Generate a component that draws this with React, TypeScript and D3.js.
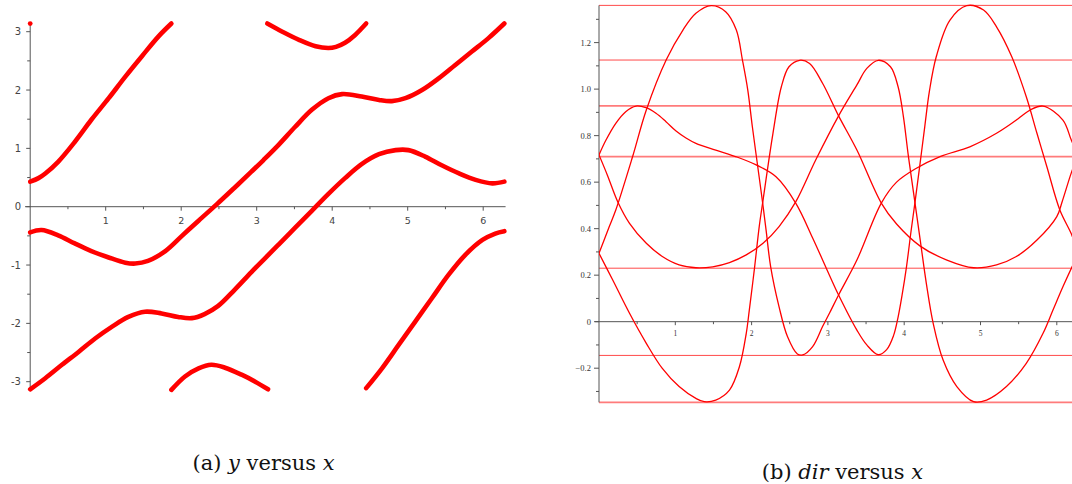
import React from "react";
import * as d3 from "d3";

type Pt = [number, number];

// (a) y versus x : branches, x in [0, 2pi], y in [-pi, pi]
const yBranchA: Pt[] = [[0, 0.43], [0.11, 0.49], [0.2, 0.57], [0.37, 0.77], [0.59, 1.11], [0.81, 1.49], [1.04, 1.86], [1.26, 2.23], [1.48, 2.58], [1.7, 2.92], [1.87, 3.14]];
const yBranchB: Pt[] = [[0, -0.44], [0.15, -0.4], [0.37, -0.49], [0.59, -0.63], [0.81, -0.76], [1.04, -0.87], [1.26, -0.96], [1.39, -0.975], [1.56, -0.93], [1.79, -0.76], [2.01, -0.5], [2.23, -0.24], [2.47, 0.04], [2.71, 0.33], [2.93, 0.6], [3.09, 0.8], [3.29, 1.06], [3.51, 1.37], [3.73, 1.66], [3.95, 1.86], [4.13, 1.93], [4.39, 1.89], [4.62, 1.83], [4.79, 1.81], [4.97, 1.86], [5.19, 2.0], [5.41, 2.2], [5.63, 2.43], [5.85, 2.66], [6.07, 2.89], [6.28, 3.14]];
const yBranchC: Pt[] = [[0, -3.13], [0.2, -2.94], [0.42, -2.71], [0.64, -2.49], [0.86, -2.26], [1.08, -2.06], [1.3, -1.89], [1.52, -1.8], [1.74, -1.83], [1.96, -1.89], [2.14, -1.91], [2.31, -1.84], [2.49, -1.7], [2.71, -1.42], [2.93, -1.12], [3.09, -0.91], [3.29, -0.65], [3.51, -0.36], [3.73, -0.07], [3.95, 0.22], [4.17, 0.49], [4.39, 0.73], [4.62, 0.9], [4.84, 0.97], [5.01, 0.97], [5.23, 0.86], [5.45, 0.71], [5.68, 0.57], [5.9, 0.46], [6.12, 0.4], [6.28, 0.43]];
const yBranchD: Pt[] = [[4.45, -3.11], [4.66, -2.77], [4.88, -2.37], [5.1, -1.97], [5.32, -1.57], [5.54, -1.17], [5.76, -0.83], [5.99, -0.57], [6.16, -0.46], [6.28, -0.42]];
const yArcTop: Pt[] = [[3.14, 3.14], [3.34, 3.0], [3.56, 2.86], [3.78, 2.75], [3.95, 2.72], [4.05, 2.74], [4.17, 2.81], [4.3, 2.94], [4.45, 3.14]];
const yArcBottom: Pt[] = [[1.87, -3.14], [2.05, -2.91], [2.23, -2.77], [2.4, -2.71], [2.58, -2.76], [2.8, -2.88], [2.98, -3.0], [3.15, -3.13]];
const yLoneDot: Pt = [0, 3.14];

// (b) dir versus x
const dir1: Pt[] = [[0, 0.717], [0.09, 0.78], [0.22, 0.853], [0.35, 0.903], [0.485, 0.927], [0.616, 0.92], [0.747, 0.896], [0.878, 0.86], [1.01, 0.82], [1.14, 0.79], [1.27, 0.767], [1.53, 0.738], [1.8, 0.709], [2.06, 0.674], [2.32, 0.623], [2.58, 0.509], [2.8, 0.36], [3.02, 0.2], [3.14, 0.115], [3.38, -0.036], [3.51, -0.1], [3.66, -0.142], [3.77, -0.12], [3.86, -0.06], [3.92, 0.02], [3.97, 0.11], [4.03, 0.236], [4.09, 0.39], [4.14, 0.51], [4.2, 0.66], [4.27, 0.84], [4.33, 0.99], [4.42, 1.139], [4.6, 1.297], [4.82, 1.359], [5.04, 1.34], [5.21, 1.268], [5.41, 1.139], [5.6, 0.967], [5.74, 0.81], [5.87, 0.666], [6.04, 0.48], [6.2, 0.37], [6.28, 0.29]];
const dir2: Pt[] = [[0, 0.717], [0.11, 0.63], [0.245, 0.516], [0.4, 0.423], [0.62, 0.337], [0.83, 0.28], [1.05, 0.244], [1.27, 0.232], [1.49, 0.236], [1.71, 0.254], [1.93, 0.287], [2.15, 0.337], [2.36, 0.409], [2.58, 0.516], [2.84, 0.695], [3.14, 0.885], [3.38, 1.018], [3.51, 1.089], [3.66, 1.124], [3.82, 1.096], [3.92, 1.01], [3.99, 0.881], [4.05, 0.724], [4.12, 0.56], [4.21, 0.351], [4.29, 0.165], [4.38, -0.007], [4.51, -0.165], [4.69, -0.279], [4.91, -0.344], [5.08, -0.337], [5.34, -0.279], [5.6, -0.179], [5.82, -0.05], [5.95, 0.05], [6.08, 0.15], [6.2, 0.236], [6.28, 0.29]];
const dir3: Pt[] = [[0, 0.294], [0.13, 0.405], [0.22, 0.48], [0.44, 0.709], [0.62, 0.91], [0.88, 1.125], [1.1, 1.254], [1.27, 1.326], [1.47, 1.359], [1.66, 1.333], [1.8, 1.254], [1.88, 1.125], [1.95, 0.996], [2.01, 0.838], [2.1, 0.62], [2.145, 0.51], [2.19, 0.394], [2.25, 0.236], [2.36, 0.064], [2.47, -0.064], [2.6, -0.139], [2.67, -0.143], [2.8, -0.107], [2.93, -0.021], [3.02, 0.036], [3.14, 0.115], [3.38, 0.265], [3.7, 0.51], [3.9, 0.6], [4.16, 0.66], [4.47, 0.71], [4.86, 0.752], [5.21, 0.81], [5.47, 0.867], [5.56, 0.89], [5.65, 0.91], [5.82, 0.927], [6.08, 0.867], [6.19, 0.781], [6.28, 0.717]];
const dir4: Pt[] = [[0, 0.294], [0.18, 0.179], [0.4, 0.036], [0.62, -0.093], [0.83, -0.201], [1.05, -0.279], [1.27, -0.33], [1.38, -0.344], [1.53, -0.337], [1.71, -0.294], [1.84, -0.194], [1.93, -0.05], [1.97, 0.05], [2.04, 0.236], [2.1, 0.409], [2.15, 0.523], [2.28, 0.81], [2.39, 1.01], [2.49, 1.096], [2.63, 1.124], [2.76, 1.11], [2.93, 1.025], [3.14, 0.885], [3.38, 0.738], [3.7, 0.51], [3.9, 0.42], [4.21, 0.325], [4.56, 0.265], [4.91, 0.232], [5.21, 0.244], [5.47, 0.28], [5.74, 0.351], [6.0, 0.452], [6.07, 0.516], [6.19, 0.64], [6.28, 0.717]];
const dirLevels = [1.36, 1.125, 0.928, 0.71, 0.23, -0.145, -0.347];
const dirFaintLevels = [0.928, 0.71, -0.347];

const xTickValues = [1, 2, 3, 4, 5, 6];
const yTickValuesA = [-3, -2, -1, 0, 1, 2, 3];
const yTickValuesB = [-0.2, 0, 0.2, 0.4, 0.6, 0.8, 1.0, 1.2];

const RED = "#ff0000";
const AXIS = "#555";

const PanelA = () => {
  const x = d3.scaleLinear().domain([0, 6]).range([30.2, 483.2]);
  const y = d3.scaleLinear().domain([-3, 3]).range([381.7, 31.7]);
  const line = d3
    .line<Pt>()
    .x((d) => x(d[0]))
    .y((d) => y(d[1]))
    .curve(d3.curveCatmullRom.alpha(0.5));
  const branches = [yBranchA, yBranchB, yBranchC, yBranchD, yArcTop, yArcBottom];
  const minorX = d3.range(0.5, 6.3, 0.5);
  const minorY = d3.range(-3, 3.01, 0.5);
  return (
    <g>
      <line x1={x(0)} x2={x(0)} y1={y(Math.PI)} y2={y(-Math.PI)} stroke={AXIS} />
      <line x1={25} x2={x(2 * Math.PI) + 1} y1={y(0)} y2={y(0)} stroke={AXIS} />
      {minorX.map((t) => (
        <line key={t} x1={x(t)} x2={x(t)} y1={y(0)} y2={y(0) + (t % 1 === 0 ? 4 : 2.5)} stroke={AXIS} />
      ))}
      {minorY.map((t) => (
        <line key={t} x1={x(0) - (t % 1 === 0 ? 4 : 3)} x2={x(0)} y1={y(t)} y2={y(t)} stroke={AXIS} />
      ))}
      {xTickValues.map((t) => (
        <text key={t} x={x(t)} y={224} fontSize={9.5} textAnchor="middle" fill="#444" fontFamily="DejaVu Sans">
          {t}
        </text>
      ))}
      {yTickValuesA.map((t) => (
        <text key={t} x={21} y={y(t) + 3.5} fontSize={10} textAnchor="end" fill="#444" fontFamily="DejaVu Sans">
          {t < 0 ? "-" + Math.abs(t) : t}
        </text>
      ))}
      {branches.map((b, i) => (
        <path key={i} d={line(b) || ""} fill="none" stroke={RED} strokeWidth={4.6} strokeLinecap="round" />
      ))}
      <circle cx={x(yLoneDot[0])} cy={y(yLoneDot[1])} r={2.4} fill={RED} />
    </g>
  );
};

const PanelB = () => {
  const x = d3.scaleLinear().domain([0, 6]).range([599, 1056.8]);
  const y = d3.scaleLinear().domain([-0.2, 1.2]).range([368.2, 42.6]);
  const line = d3
    .line<Pt>()
    .x((d) => x(d[0]))
    .y((d) => y(d[1]))
    .curve(d3.curveCatmullRom.alpha(0.5));
  const minorX = d3.range(0.5, 6.3, 0.5);
  const minorY = d3.range(-3, 14).map((k) => k / 10);
  const right = 1072;
  return (
    <g>
      <defs>
        <clipPath id="clipB">
          <rect x={x(0)} y={0} width={right - x(0)} height={484} />
        </clipPath>
      </defs>
      {dirLevels.map((v) => {
        const faint = dirFaintLevels.includes(v);
        return (
          <line
            key={v}
            x1={x(0)}
            x2={right}
            y1={y(v)}
            y2={y(v)}
            stroke={faint ? "#ff7b7b" : "#ff4a4a"}
            strokeWidth={faint ? 1.7 : 1}
          />
        );
      })}
      <line x1={x(0)} x2={x(0)} y1={y(1.36)} y2={y(-0.347)} stroke={AXIS} />
      <line x1={x(0) - 4} x2={right} y1={y(0)} y2={y(0)} stroke={AXIS} />
      {minorX.map((t) => (
        <line key={t} x1={x(t)} x2={x(t)} y1={y(0)} y2={y(0) + (t % 1 === 0 ? 3.5 : 2.5)} stroke={AXIS} />
      ))}
      {minorY.map((t) => (
        <line
          key={t}
          x1={x(0) - (Math.round(t * 10) % 2 === 0 ? 5 : 3)}
          x2={x(0)}
          y1={y(t)}
          y2={y(t)}
          stroke={AXIS}
        />
      ))}
      {xTickValues.map((t) => (
        <text key={t} x={x(t)} y={336} fontSize={7.5} textAnchor="middle" fill="#333" fontFamily="Liberation Serif">
          {t}
        </text>
      ))}
      {yTickValuesB.map((t) => (
        <text key={t} x={591} y={y(t) + 3} fontSize={8.5} textAnchor="end" fill="#333" fontFamily="Liberation Serif">
          {t === 0 ? "0" : d3.format(".1f")(t)}
        </text>
      ))}
      <g clipPath="url(#clipB)">
        {[dir1, dir2, dir3, dir4].map((c, i) => (
          <path key={i} d={line(c) || ""} fill="none" stroke={RED} strokeWidth={1.3} />
        ))}
      </g>
    </g>
  );
};

export default function App() {
  return (
    <div style={{ position: "absolute", left: 0, top: 0 }}>
      <svg width={1072} height={484} style={{ display: "block", background: "#fff" }}>
        <PanelA />
        <PanelB />
        <text x={263.5} y={470} textAnchor="middle" fontSize={21} fontFamily="'DejaVu Serif', serif" fill="#111">
          (a) <tspan fontStyle="italic">y</tspan> versus <tspan fontStyle="italic">x</tspan>
        </text>
        <text x={842.5} y={479} textAnchor="middle" fontSize={21} fontFamily="'DejaVu Serif', serif" fill="#111">
          (b) <tspan fontStyle="italic">dir</tspan> versus <tspan fontStyle="italic">x</tspan>
        </text>
      </svg>
    </div>
  );
}
